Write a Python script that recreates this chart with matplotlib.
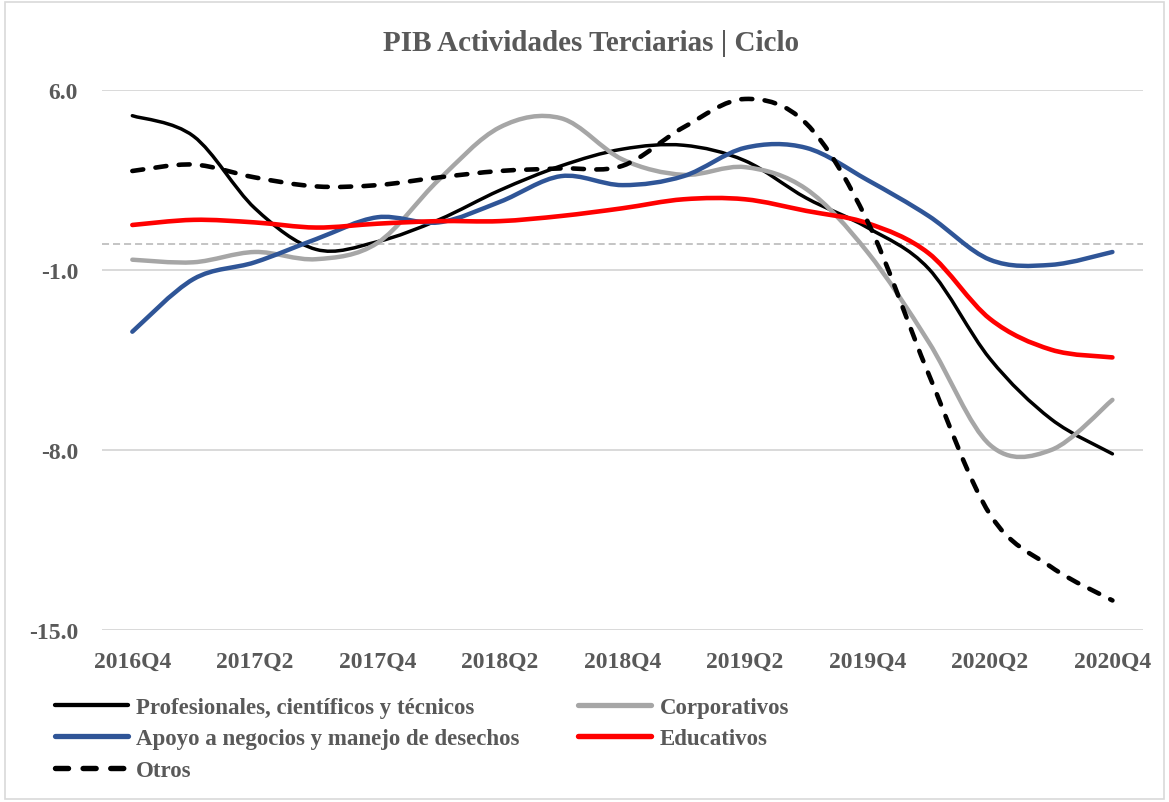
import matplotlib
matplotlib.use("Agg")
import matplotlib.pyplot as plt
import numpy as np
from matplotlib.path import Path
from matplotlib.patches import PathPatch, Rectangle
from matplotlib.lines import Line2D

plt.rcParams['font.family'] = ['Liberation Serif', 'DejaVu Serif']
plt.rcParams['font.weight'] = 'bold'

# quarters 2016Q4 .. 2020Q4
quarters = ['2016Q4', '2017Q1', '2017Q2', '2017Q3', '2017Q4', '2018Q1', '2018Q2',
            '2018Q3', '2018Q4', '2019Q1', '2019Q2', '2019Q3', '2019Q4', '2020Q1',
            '2020Q2', '2020Q3', '2020Q4']

profesionales = [5.0, 4.2, 1.4, -0.2, 0.1, 0.95, 2.1, 3.05, 3.7, 3.85, 3.25, 1.8,
                 0.65, -0.95, -4.45, -6.8, -8.15]
corporativos = [-0.6, -0.7, -0.3, -0.58, 0.05, 2.5, 4.55, 4.9, 3.3, 2.7, 3.0, 2.15,
                -0.3, -3.8, -7.8, -8.0, -6.05]
apoyo = [-3.4, -1.35, -0.7, 0.2, 1.05, 0.85, 1.65, 2.65, 2.3, 2.65, 3.75, 3.75,
         2.5, 1.1, -0.6, -0.8, -0.3]
educativos = [0.75, 0.95, 0.85, 0.65, 0.8, 0.9, 0.9, 1.1, 1.4, 1.75, 1.75, 1.3,
              0.82, -0.35, -2.9, -4.1, -4.4]
otros = [2.85, 3.1, 2.6, 2.25, 2.3, 2.6, 2.85, 2.95, 3.05, 4.55, 5.65, 4.7, 0.9,
         -5.05, -10.5, -12.55, -13.85]

series_names = ['Profesionales, científicos y técnicos', 'Corporativos',
                'Apoyo a negocios y manejo de desechos', 'Educativos', 'Otros']

TEXT = '#595959'
GRID = '#D9D9D9'


def smooth_path(x, y):
    # Excel-like smoothed line: cubic bezier through each point (Catmull-Rom)
    pts = np.column_stack([x, y]).astype(float)
    n = len(pts)
    verts = [pts[0]]
    codes = [Path.MOVETO]
    for i in range(n - 1):
        p0 = pts[i - 1] if i > 0 else pts[i]
        p1 = pts[i]
        p2 = pts[i + 1]
        p3 = pts[i + 2] if i + 2 < n else pts[i + 1]
        verts += [p1 + (p2 - p0) / 6, p2 - (p3 - p1) / 6, p2]
        codes += [Path.CURVE4] * 3
    return Path(verts, codes)


fig = plt.figure(figsize=(11.69, 8.03), dpi=100)
ax = fig.add_axes([0.087, 0.2142, 0.8908, 0.6725])

x = np.arange(len(quarters))
styles = [
    (profesionales, 'black', 2.5, '-'),
    (corporativos, '#A6A6A6', 3.2, '-'),
    (apoyo, '#2F5597', 3.2, '-'),
    (educativos, '#FF0000', 3.3, '-'),
    (otros, 'black', 3.3, (0, (2.4, 2.7))),
]
handles = []
for k, (vals, col, lw, ls) in enumerate(styles):
    patch = PathPatch(smooth_path(x, vals), facecolor='none', edgecolor=col,
                      lw=lw, ls=ls, capstyle='round', joinstyle='round',
                      zorder=3 + k)
    ax.add_patch(patch)
    handles.append(Line2D([], [], color=col, lw=lw + 0.6, ls=ls,
                          solid_capstyle='round', dash_capstyle='round'))

ax.axhline(0, color='#BFBFBF', lw=1.3, ls=(0, (3.9, 2.2)), zorder=2)

ax.set_xlim(-0.5, 16.5)
ax.set_ylim(-15, 6)
ax.set_yticks([6, -1, -8, -15])
ax.set_yticklabels(['6.0', '-1.0', '-8.0', '-15.0'])
ax.set_xticks(x[::2])
ax.set_xticklabels(quarters[::2])
ax.tick_params(length=0, labelsize=17, labelcolor=TEXT)
ax.tick_params(axis='y', pad=17)
ax.tick_params(axis='x', pad=15)
ax.yaxis.grid(True, color=GRID, lw=1.4, zorder=1)
ax.set_axisbelow(True)
for s in ax.spines.values():
    s.set_visible(False)

fig.text(0.5056, 0.946, 'PIB Actividades Terciarias | Ciclo', ha='center',
         va='center', fontsize=21, color=TEXT, fontweight='bold')

order = [0, 2, 4, 1, 3]
leg = fig.legend([handles[i] for i in order], [series_names[i] for i in order],
                 ncol=2, loc='upper left', bbox_to_anchor=(0.047, 0.131),
                 frameon=False, fontsize=16.5, handlelength=3.2,
                 handletextpad=0.35, labelspacing=0.45, columnspacing=2.55,
                 borderaxespad=0, borderpad=0)
for t in leg.get_texts():
    t.set_color(TEXT)

fig.patches.append(Rectangle((0.004, 0.004), 0.992, 0.992, transform=fig.transFigure,
                             fill=False, edgecolor=GRID, lw=1.2))

fig.savefig('out.png', dpi=100)
